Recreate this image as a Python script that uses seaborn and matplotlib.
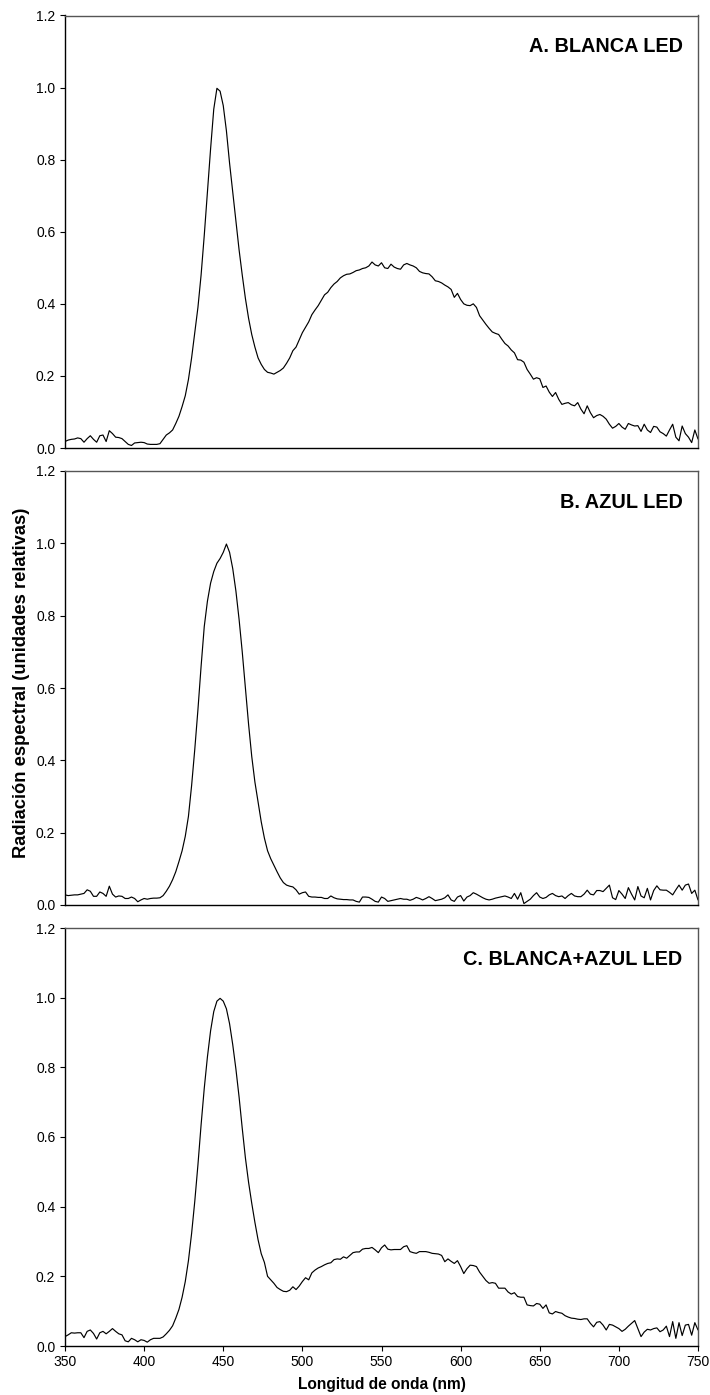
import numpy as np
import pandas as pd
import seaborn as sns
import matplotlib
matplotlib.use("Agg")
import matplotlib.pyplot as plt

# ---------------- data ----------------
wavelength = list(range(350, 751, 2))  # nm

blanca = [
    0.018, 0.022, 0.024, 0.025, 0.028, 0.026, 0.016, 0.026, 0.034, 0.024,
    0.016, 0.034, 0.036, 0.018, 0.048, 0.040, 0.030, 0.029, 0.026, 0.018,
    0.010, 0.007, 0.014, 0.015, 0.016, 0.015, 0.011, 0.010, 0.010, 0.010,
    0.012, 0.024, 0.036, 0.042, 0.050, 0.068, 0.088, 0.115, 0.145, 0.190,
    0.250, 0.320, 0.390, 0.480, 0.590, 0.710, 0.830, 0.940, 0.998, 0.990,
    0.950, 0.880, 0.790, 0.710, 0.630, 0.550, 0.480, 0.415, 0.360, 0.315,
    0.280, 0.250, 0.232, 0.218, 0.210, 0.208, 0.205, 0.210, 0.215, 0.222,
    0.235, 0.250, 0.270, 0.280, 0.300, 0.320, 0.335, 0.350, 0.370, 0.383,
    0.395, 0.410, 0.425, 0.432, 0.445, 0.455, 0.462, 0.472, 0.478, 0.482,
    0.483, 0.487, 0.492, 0.494, 0.498, 0.500, 0.505, 0.516, 0.508, 0.505,
    0.514, 0.500, 0.498, 0.510, 0.502, 0.498, 0.496, 0.508, 0.512, 0.508,
    0.505, 0.500, 0.490, 0.486, 0.484, 0.483, 0.475, 0.464, 0.462, 0.458,
    0.452, 0.447, 0.440, 0.418, 0.429, 0.412, 0.400, 0.396, 0.395, 0.400,
    0.390, 0.367, 0.355, 0.343, 0.332, 0.322, 0.318, 0.315, 0.302, 0.290,
    0.283, 0.272, 0.264, 0.245, 0.244, 0.238, 0.218, 0.205, 0.191, 0.195,
    0.192, 0.168, 0.172, 0.155, 0.143, 0.154, 0.135, 0.121, 0.124, 0.126,
    0.120, 0.117, 0.126, 0.108, 0.095, 0.117, 0.098, 0.084, 0.090, 0.093,
    0.088, 0.080, 0.066, 0.055, 0.060, 0.068, 0.058, 0.052, 0.068, 0.064,
    0.061, 0.062, 0.046, 0.066, 0.050, 0.043, 0.060, 0.058, 0.045, 0.040,
    0.033, 0.050, 0.066, 0.030, 0.020, 0.061, 0.040, 0.030, 0.015, 0.050,
    0.025,
]

azul = [
    0.028, 0.026, 0.027, 0.028, 0.028, 0.030, 0.032, 0.042, 0.038, 0.024,
    0.024, 0.036, 0.032, 0.024, 0.052, 0.030, 0.022, 0.025, 0.024, 0.018,
    0.018, 0.022, 0.018, 0.009, 0.014, 0.018, 0.016, 0.018, 0.019, 0.019,
    0.020, 0.026, 0.038, 0.052, 0.070, 0.092, 0.120, 0.150, 0.190, 0.245,
    0.330, 0.430, 0.540, 0.660, 0.770, 0.840, 0.890, 0.922, 0.945, 0.958,
    0.975, 0.998, 0.975, 0.930, 0.868, 0.790, 0.700, 0.600, 0.500, 0.411,
    0.340, 0.285, 0.230, 0.185, 0.150, 0.128, 0.110, 0.092, 0.075, 0.062,
    0.055, 0.052, 0.050, 0.042, 0.030, 0.034, 0.036, 0.024, 0.022, 0.022,
    0.021, 0.021, 0.018, 0.018, 0.025, 0.020, 0.017, 0.016, 0.015, 0.015,
    0.014, 0.014, 0.010, 0.008, 0.022, 0.022, 0.021, 0.016, 0.010, 0.008,
    0.022, 0.018, 0.010, 0.012, 0.014, 0.016, 0.018, 0.016, 0.016, 0.013,
    0.016, 0.021, 0.018, 0.014, 0.018, 0.023, 0.018, 0.012, 0.014, 0.016,
    0.020, 0.028, 0.014, 0.010, 0.022, 0.026, 0.011, 0.022, 0.026, 0.034,
    0.030, 0.025, 0.020, 0.016, 0.014, 0.016, 0.019, 0.021, 0.023, 0.025,
    0.022, 0.018, 0.032, 0.016, 0.034, 0.004, 0.010, 0.016, 0.026, 0.034,
    0.022, 0.018, 0.021, 0.028, 0.032, 0.026, 0.023, 0.025, 0.018, 0.026,
    0.032, 0.025, 0.023, 0.023, 0.030, 0.041, 0.030, 0.028, 0.040, 0.040,
    0.037, 0.046, 0.055, 0.020, 0.015, 0.040, 0.030, 0.018, 0.048, 0.030,
    0.014, 0.051, 0.025, 0.020, 0.046, 0.014, 0.040, 0.053, 0.042, 0.041,
    0.041, 0.035, 0.028, 0.042, 0.055, 0.041, 0.055, 0.058, 0.032, 0.041,
    0.014,
]

blanca_azul = [
    0.027, 0.032, 0.038, 0.037, 0.038, 0.038, 0.024, 0.042, 0.046, 0.036,
    0.020, 0.038, 0.042, 0.035, 0.042, 0.050, 0.042, 0.035, 0.032, 0.015,
    0.012, 0.022, 0.018, 0.012, 0.018, 0.016, 0.011, 0.018, 0.022, 0.022,
    0.022, 0.026, 0.035, 0.045, 0.058, 0.080, 0.105, 0.140, 0.185, 0.245,
    0.323, 0.415, 0.520, 0.635, 0.740, 0.830, 0.905, 0.960, 0.990, 0.998,
    0.990, 0.968, 0.925, 0.865, 0.795, 0.715, 0.625, 0.540, 0.470, 0.410,
    0.355, 0.305, 0.265, 0.240, 0.200, 0.190, 0.180, 0.168, 0.162, 0.157,
    0.156, 0.160, 0.170, 0.162, 0.172, 0.185, 0.196, 0.190, 0.210, 0.218,
    0.224, 0.228, 0.233, 0.237, 0.239, 0.248, 0.250, 0.249, 0.256, 0.252,
    0.260, 0.268, 0.270, 0.270, 0.278, 0.280, 0.280, 0.283, 0.276, 0.268,
    0.282, 0.290, 0.278, 0.276, 0.277, 0.277, 0.277, 0.285, 0.288, 0.271,
    0.268, 0.266, 0.271, 0.271, 0.271, 0.269, 0.266, 0.265, 0.264, 0.260,
    0.242, 0.250, 0.243, 0.237, 0.245, 0.228, 0.208, 0.222, 0.232, 0.231,
    0.228, 0.212, 0.200, 0.188, 0.180, 0.182, 0.180, 0.166, 0.166, 0.166,
    0.155, 0.149, 0.153, 0.142, 0.140, 0.140, 0.118, 0.116, 0.115, 0.122,
    0.120, 0.108, 0.118, 0.095, 0.092, 0.099, 0.096, 0.094, 0.087, 0.083,
    0.080, 0.079, 0.077, 0.076, 0.078, 0.078, 0.065, 0.055, 0.068, 0.070,
    0.060, 0.046, 0.062, 0.060, 0.055, 0.050, 0.042, 0.048, 0.057, 0.065,
    0.073, 0.050, 0.027, 0.040, 0.048, 0.046, 0.050, 0.052, 0.041, 0.046,
    0.057, 0.027, 0.070, 0.022, 0.067, 0.030, 0.060, 0.062, 0.031, 0.067,
    0.046,
]

panel_titles = ["A. BLANCA LED", "B. AZUL LED", "C. BLANCA+AZUL LED"]
x_ticks = [350, 400, 450, 500, 550, 600, 650, 700, 750]
y_ticks = [0.0, 0.2, 0.4, 0.6, 0.8, 1.0, 1.2]
x_label = "Longitud de onda (nm)"
y_label = "Radiación espectral (unidades relativas)"

# ---------------- style ----------------
sns.set_theme(style="white")
plt.rcParams["font.family"] = ["Liberation Sans", "DejaVu Sans"]
plt.rcParams["text.color"] = "black"

fig = plt.figure(figsize=(7.1, 13.95), dpi=100)
W, H = 710.0, 1395.0
left_px, right_px = 65.0, 698.0
panels_px = [(15.5, 448.0), (471.0, 905.0), (928.0, 1346.0)]

series = [blanca, azul, blanca_azul]
for i, ((top, bot), vals, title) in enumerate(zip(panels_px, series, panel_titles)):
    ax = fig.add_axes([left_px / W, 1 - bot / H, (right_px - left_px) / W, (bot - top) / H])
    df = pd.DataFrame({"nm": wavelength, "val": vals})
    sns.lineplot(data=df, x="nm", y="val", ax=ax, color="black", linewidth=0.85)
    ax.set_xlim(350, 750)
    ax.set_ylim(0, 1.2)
    ax.set_yticks(y_ticks)
    ax.set_yticklabels([f"{t:.1f}" for t in y_ticks])
    ax.set_xlabel("")
    ax.set_ylabel("")
    for side in ["left", "bottom"]:
        ax.spines[side].set_color("black")
        ax.spines[side].set_linewidth(1.0)
    for side in ["top", "right"]:
        ax.spines[side].set_color("#555555")
        ax.spines[side].set_linewidth(1.0)
    ax.tick_params(axis="y", which="both", left=True, direction="out", length=3.5,
                   width=0.8, pad=3.5, labelsize=10, colors="black")
    if i == 2:
        ax.set_xticks(x_ticks)
        ax.tick_params(axis="x", bottom=True, direction="out", length=3.5,
                       width=0.8, pad=3, labelsize=10, colors="black")
    else:
        ax.set_xticks([])
    ax.annotate(title, xy=(1, 1), xycoords="axes fraction", xytext=(-11, -26.5),
                textcoords="offset points", ha="right", va="baseline",
                fontsize=14.3, fontweight="bold", color="black")

fig.text(22 / W, 1 - 683 / H, y_label, rotation=90, ha="center", va="center",
         fontsize=13.2, fontweight="bold", color="black")
fig.text(381.5 / W, 1 - 1385 / H, x_label, ha="center", va="center",
         fontsize=11.2, fontweight="bold", color="black")

fig.savefig("out.png", dpi=100)
